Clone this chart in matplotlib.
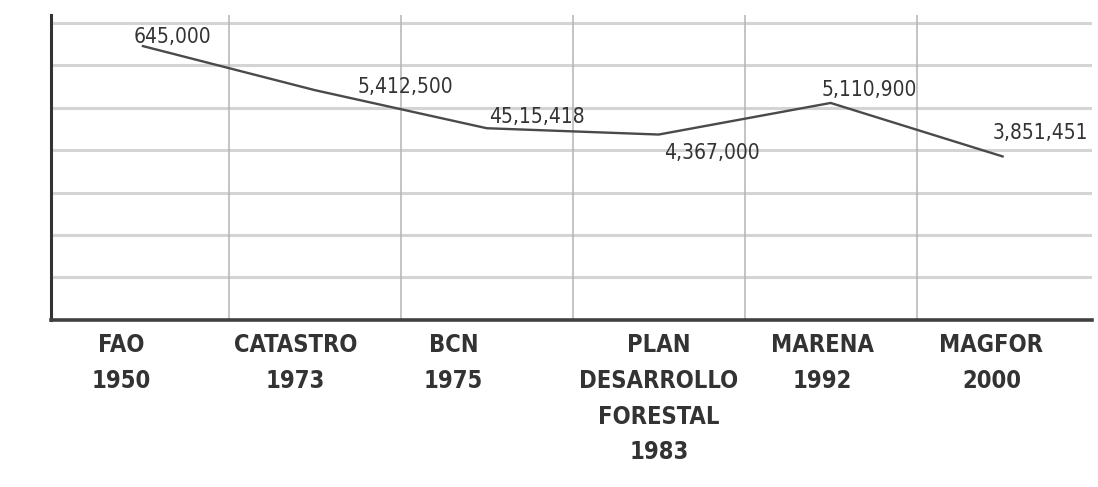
import matplotlib
matplotlib.use("Agg")
import matplotlib.pyplot as plt

# Fuentes / estimaciones de cobertura forestal (ha)
sources = ['FAO\n1950', 'CATASTRO\n1973', 'BCN\n1975',
           'PLAN\nDESARROLLO\nFORESTAL\n1983', 'MARENA\n1992', 'MAGFOR\n2000']
area = [6450000, 5412500, 4515418, 4367000, 5110900, 3851451]
value_labels = ['645,000', '5,412,500', '45,15,418', '4,367,000', '5,110,900', '3,851,451']
# label offsets in points (dx, dy), text centred
label_offsets = [(21, 6.5), (65, 2), (36, 8), (38, -13), (28, 9.5), (27, 17)]
# small horizontal shifts of the category names (points)
name_shift = [-16, -14, -24, 0, -6, -8]

fig = plt.figure(figsize=(10.98, 4.87), dpi=100)
ax = fig.add_axes([0.0464, 0.343, 0.9481, 0.626])

x = list(range(len(sources)))
ax.plot(x, area, color='#4a4a4a', linewidth=1.7, zorder=3)

for xi, yi, txt, (dx, dy) in zip(x, area, value_labels, label_offsets):
    ax.annotate(txt, (xi, yi), xytext=(dx, dy), textcoords='offset points',
                ha='center', va='center', fontsize=15, color='#333333',
                family=['DejaVu Sans'], fontstretch='condensed', zorder=4)

for xi, name, sh in zip(x, sources, name_shift):
    ax.annotate(name, (xi, 0), xytext=(sh, -9.5), textcoords='offset points',
                ha='center', va='top', multialignment='center',
                fontsize=17, fontweight='bold', color='#333333', linespacing=1.62,
                family=['DejaVu Sans'], fontstretch='condensed',
                annotation_clip=False)

ax.set_xlim(-0.535, 5.52)
ax.set_ylim(0, 7180000)

# horizontal grid every million
for v in range(1, 8):
    ax.axhline(v * 1000000, color='#d4d4d4', linewidth=2.2, zorder=1)
# vertical separators between sources
for b in range(len(sources) - 1):
    ax.axvline(b + 0.5, color='#b4b4b4', linewidth=1.1, zorder=1)

ax.set_xticks([])
ax.set_yticks([])

for s in ['top', 'right']:
    ax.spines[s].set_visible(False)
ax.spines['left'].set_linewidth(2.2)
ax.spines['left'].set_color('#333333')
ax.spines['bottom'].set_linewidth(2.6)
ax.spines['bottom'].set_color('#404040')

fig.savefig('out.png', dpi=100)
